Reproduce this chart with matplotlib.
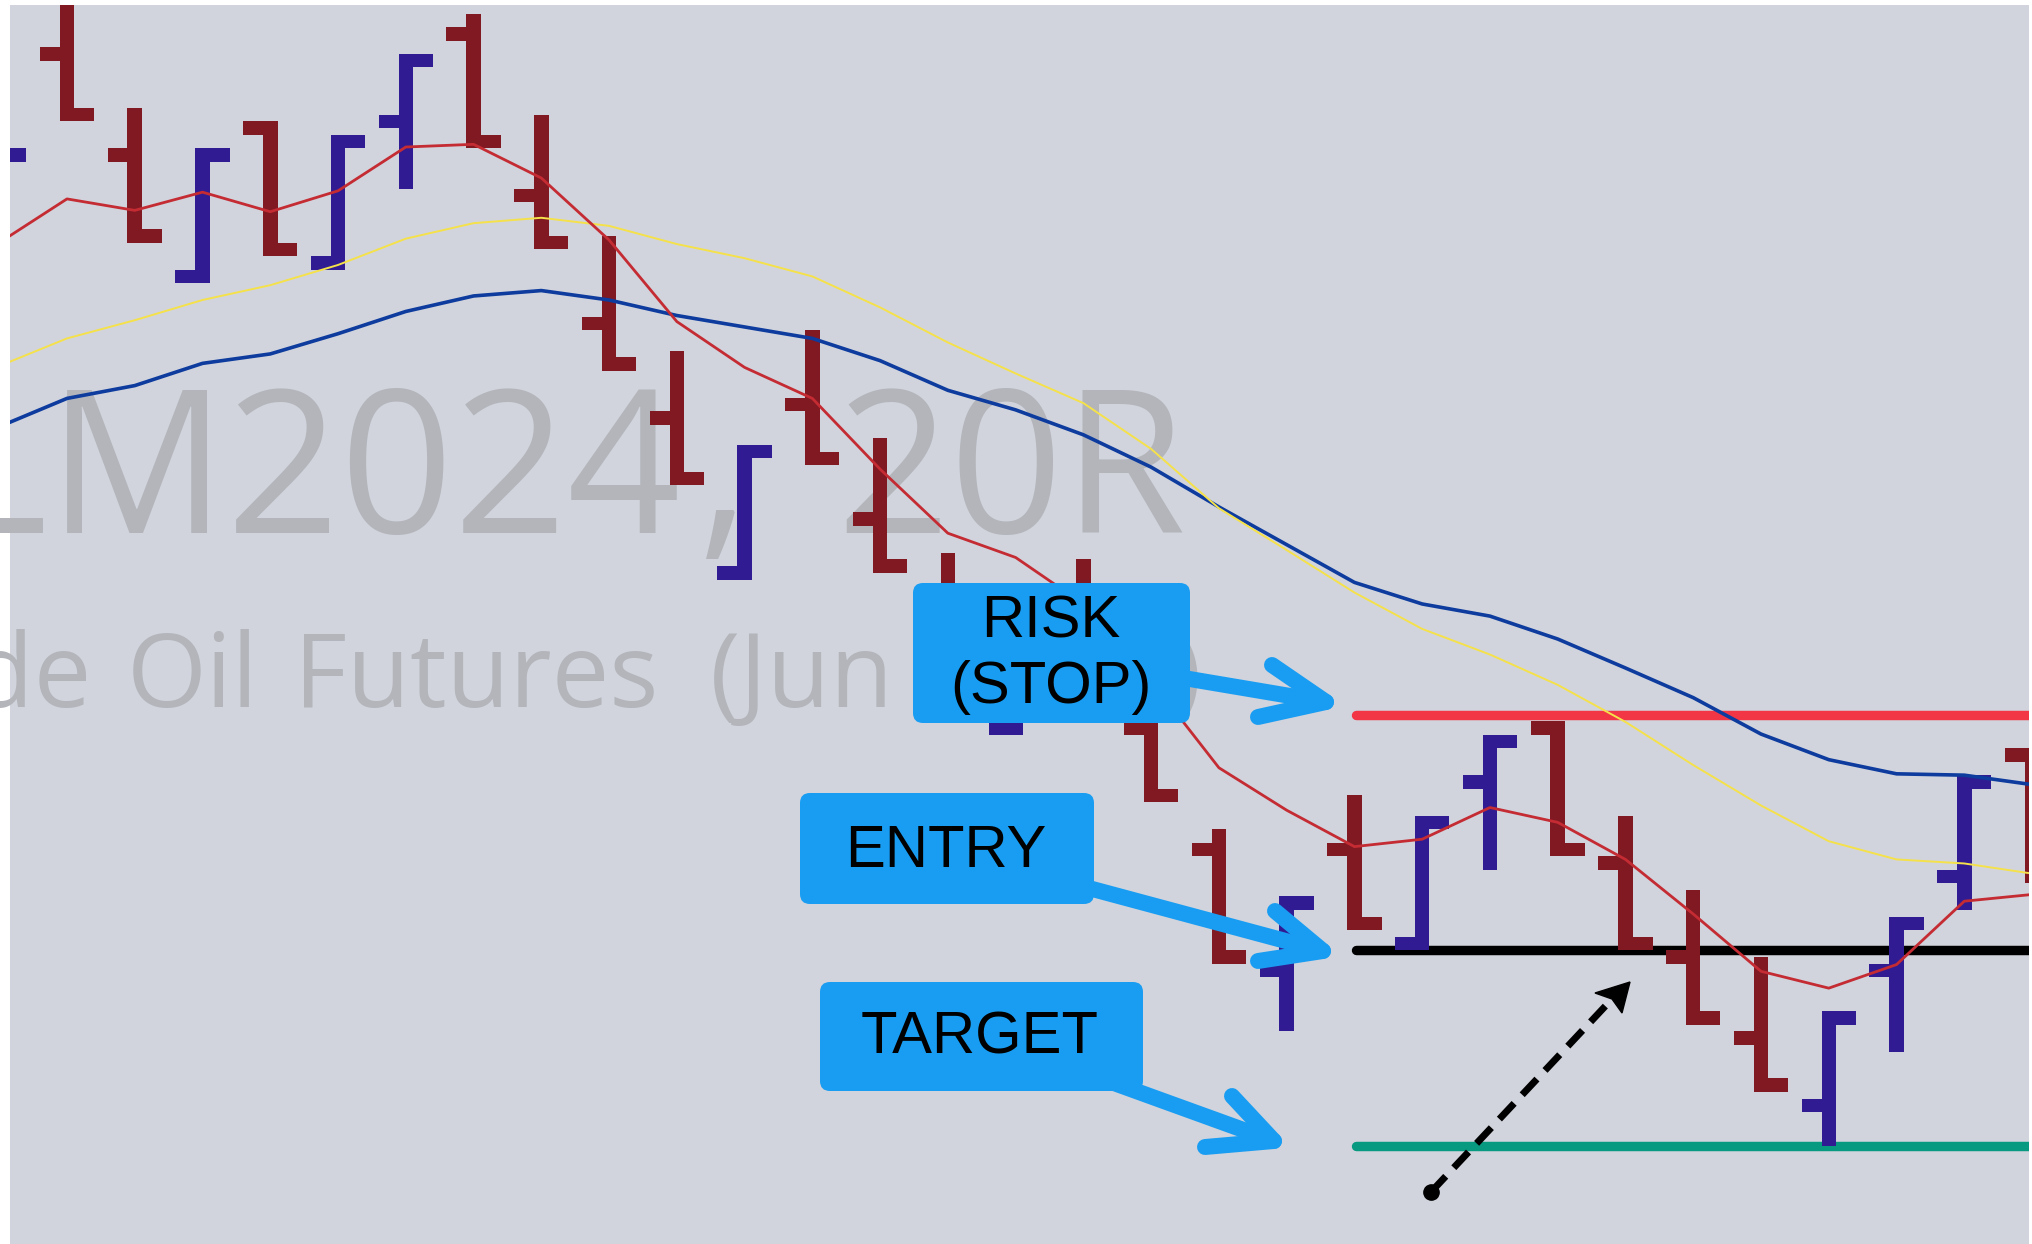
import matplotlib
matplotlib.use("Agg")
import matplotlib.pyplot as plt
from matplotlib.patches import Rectangle, FancyBboxPatch, Polygon
import numpy as np

# -------- CLM2024, 20 tick range bars --------
bar_open  = [78.99, 79.33, 79.18, 78.99, 79.23, 79.01, 79.23, 79.36, 79.12, 78.93,
             78.79, 78.55, 78.81, 78.64, 78.50, 78.32, 78.45, 78.33, 78.15, 77.97,
             78.15, 78.00, 78.25, 78.34, 78.13, 77.99, 77.87, 77.77, 77.97, 78.11, 78.30]
bar_high  = [79.19, 79.43, 79.25, 79.19, 79.23, 79.21, 79.33, 79.39, 79.24, 79.06,
             78.89, 78.75, 78.92, 78.76, 78.59, 78.52, 78.58, 78.42, 78.18, 78.08,
             78.23, 78.20, 78.32, 78.34, 78.20, 78.09, 77.99, 77.91, 78.05, 78.26, 78.30]
bar_low   = [78.99, 79.23, 79.05, 78.99, 79.03, 79.01, 79.13, 79.19, 79.04, 78.86,
             78.69, 78.55, 78.72, 78.56, 78.39, 78.32, 78.38, 78.22, 77.98, 77.88,
             78.03, 78.00, 78.12, 78.14, 78.00, 77.89, 77.79, 77.71, 77.85, 78.06, 78.10]
bar_close = [79.19, 79.23, 79.05, 79.19, 79.03, 79.21, 79.33, 79.19, 79.04, 78.86,
             78.69, 78.75, 78.72, 78.56, 78.39, 78.52, 78.38, 78.22, 77.98, 78.08,
             78.03, 78.20, 78.32, 78.14, 78.00, 77.89, 77.79, 77.91, 78.05, 78.26, 78.10]

# moving averages (fast red, mid yellow, slow blue)
ma_fast = [79.050, 79.115, 79.098, 79.125, 79.096, 79.127, 79.192, 79.196, 79.146, 79.054,
           78.933, 78.865, 78.819, 78.714, 78.619, 78.583, 78.514, 78.400, 78.271, 78.208,
           78.154, 78.165, 78.212, 78.190, 78.135, 78.054, 77.969, 77.944, 77.979, 78.073, 78.083]
ma_mid  = [78.867, 78.908, 78.935, 78.965, 78.987, 79.017, 79.056, 79.079, 79.087, 79.075,
           79.048, 79.027, 79.000, 78.954, 78.902, 78.856, 78.812, 78.744, 78.656, 78.594,
           78.531, 78.477, 78.439, 78.394, 78.339, 78.275, 78.215, 78.162, 78.135, 78.129, 78.114]
ma_slow = [78.777, 78.819, 78.838, 78.871, 78.885, 78.915, 78.948, 78.971, 78.979, 78.965,
           78.942, 78.925, 78.908, 78.875, 78.831, 78.802, 78.765, 78.717, 78.658, 78.602,
           78.546, 78.514, 78.496, 78.462, 78.419, 78.375, 78.321, 78.283, 78.262, 78.260, 78.246]

stop_level   = 78.35
entry_level  = 78.00
target_level = 77.71
levels_from  = 20.02   # bar index where the drawn levels start

# -------- style --------
BG      = "#d1d4dc"
UP      = "#311b92"
DOWN    = "#801922"
WM      = "#b3b5bb"
CALLOUT = "#199df2"

W, H = 2033, 1244
fig = plt.figure(figsize=(W / 100, H / 100), dpi=100)
fig.patch.set_facecolor("white")

ax = fig.add_axes([10 / W, 0, 2019 / W, 1239 / H])
ax.set_facecolor(BG)
ax.set_xlim(0.159, 29.955)
ax.set_ylim(77.5644, 79.4027)
ax.set_xticks([])
ax.set_yticks([])
for s in ax.spines.values():
    s.set_visible(False)

# pixel overlay for the hand drawn callouts
ov = fig.add_axes([0, 0, 1, 1], zorder=5)
ov.set_xlim(0, W)
ov.set_ylim(H, 0)
ov.axis("off")

# watermark (clipped by the pane); pieces placed to follow the wide word spacing
watermark = [("CLM2024", 681, 533, 143, "right"),
             (",", 698, 533, 143, "left"),
             ("20R", 1186, 533, 143, "right"),
             ("Crude", 92, 707, 74, "right"),
             ("Oil", 127, 707, 74, "left"),
             ("Futures", 294, 707, 74, "left"),
             ("(Jun", 710, 707, 74, "left"),
             ("2024)", 1203, 707, 74, "right")]
for s, x, y, fs, ha in watermark:
    t = ax.text(x, y, s, transform=ov.transData, ha=ha, va="baseline",
                fontsize=fs, family="Open Sans", color=WM, zorder=0)
    t.set_clip_path(ax.patch)

# -------- range bars --------
vw, tl, th = 0.107, 0.40, 0.02
for i, (o, h, l, c) in enumerate(zip(bar_open, bar_high, bar_low, bar_close)):
    col = UP if c >= o else DOWN
    ax.add_patch(Rectangle((i - vw, l), 2 * vw, h - l, fc=col, lw=0, zorder=3))
    yo = min(max(o - th / 2, l), h - th)
    ax.add_patch(Rectangle((i - tl, yo), tl, th, fc=col, lw=0, zorder=3))
    yc = min(max(c - th / 2, l), h - th)
    ax.add_patch(Rectangle((i, yc), tl, th, fc=col, lw=0, zorder=3))

x = np.arange(len(ma_fast))
ax.plot(x, ma_slow, color="#0d3b9e", lw=2.6, zorder=4)
ax.plot(x, ma_mid, color="#f5e14a", lw=1.4, zorder=4)
ax.plot(x, ma_fast, color="#c42b33", lw=2.0, zorder=4)

# risk / entry / target levels
for lvl, col in [(stop_level, "#f23645"), (entry_level, "#000000"), (target_level, "#089981")]:
    ax.plot([levels_from, 31], [lvl, lvl], color=col, lw=6.8,
            solid_capstyle="round", zorder=2)


# -------- callouts --------
def arrow(start, tip, b1, b2, lw=11.5):
    ov.plot([start[0], tip[0]], [start[1], tip[1]], color=CALLOUT, lw=lw,
            solid_capstyle="round", zorder=1)
    ov.plot([b1[0], tip[0], b2[0]], [b1[1], tip[1], b2[1]], color=CALLOUT, lw=lw,
            solid_capstyle="round", solid_joinstyle="round", zorder=1)


def box(x0, y0, x1, y1):
    ov.add_patch(FancyBboxPatch((x0, y0), x1 - x0, y1 - y0,
                                boxstyle="round,pad=0,rounding_size=10",
                                fc=CALLOUT, ec="none", zorder=2))


txt = dict(ha="center", va="baseline", fontsize=43, family="Liberation Sans",
           color="black", zorder=3)

arrow((1160, 674), (1326, 702), (1272, 665), (1258, 717))
box(913, 583, 1190, 723)
ov.text(1051, 638, "RISK", **txt)
ov.text(1051, 703, "(STOP)", **txt)

arrow((1070, 883), (1323, 951), (1275, 911), (1258, 961))
box(800, 793, 1094, 904)
ov.text(946, 867, "ENTRY", **txt)

arrow((1100, 1078), (1274, 1141), (1232, 1096), (1205, 1147))
box(820, 982, 1143, 1091)
ov.text(980, 1054, "TARGET", **txt)

# dashed pointer towards the entry
dot, head_tip = (1431, 1192), (1630, 982)
notch = (1612, 999)
ov.plot([dot[0], notch[0]], [dot[1], notch[1]], color="black", lw=5,
        linestyle=(0, (3.1, 1.7)), solid_capstyle="butt", zorder=4)
ov.plot([dot[0]], [dot[1]], "o", color="black", ms=11, zorder=4)
ov.add_patch(Polygon([head_tip, (1595, 993), notch, (1622, 1013)], closed=True,
                     fc="black", ec="black", lw=1, zorder=4))

fig.savefig("out.png", dpi=100)
